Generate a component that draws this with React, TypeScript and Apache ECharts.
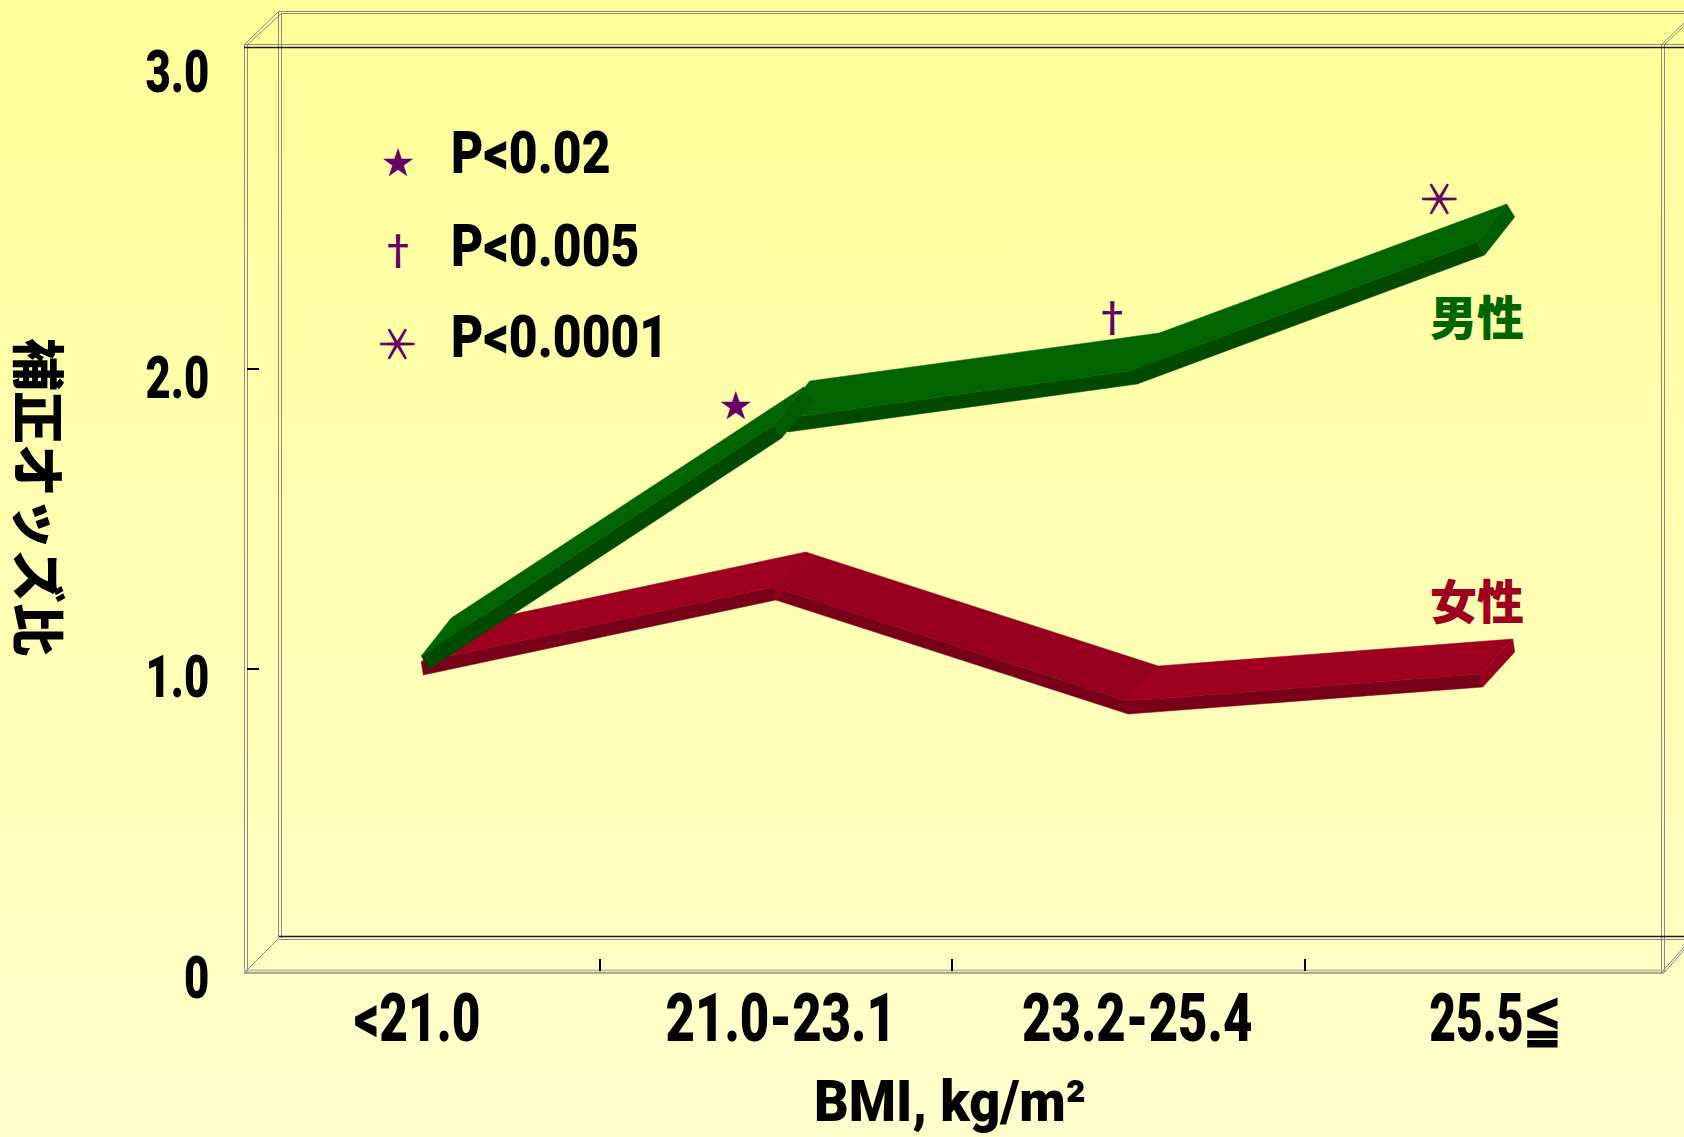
import React, { useEffect, useRef } from "react";
import * as echarts from "echarts";

const categories = ["<21.0", "21.0-23.1", "23.2-25.4", "25.5≦"];
const yTickValues = [0, 1, 2, 3];
const yTickLabels = ["0", "1.0", "2.0", "3.0"];
const menValues = [1.0, 1.77, 1.95, 2.38];
const womenValues = [0.98, 1.23, 0.85, 0.94];
const significanceMarks = ["★", "†", "＊"];
const significancePositions = [1.887, 2.18, 2.567];
const significanceCategories = [1, 2, 3];
const legendLabels = ["P<0.02", "P<0.005", "P<0.0001"];
const xAxisTitle = "BMI, kg/m²";
const yAxisTitle = "補正オッズ比";

const LATIN = 'Roboto, "Liberation Sans", sans-serif';
const CJK = '"Noto Sans CJK JP", sans-serif';
const PURPLE = "#660066";
const FRAME = "#8a8a80";

type Ribbon = {
  xShift: number[];
  t: number[];
  d: number[];
  top: string[];
  side: string;
  startShift: number[][];
};

const menStyle: Ribbon = {
  xShift: [6, 6, 9, 4],
  t: [-8, -13],
  d: [30, -38],
  top: ["#006400", "#006400", "#006400"],
  side: "#004a00",
  startShift: [[0, 0], [6, -6], [0, 0]],
};
const womenStyle: Ribbon = {
  xShift: [0, 0, 0, 2],
  t: [-2, -13],
  d: [32, -35],
  top: ["#a00020", "#96001e", "#a00020"],
  side: "#780018",
  startShift: [[0, 0], [0, 0], [0, 0]],
};

function markFont(i: number) {
  return i === 0 ? `32px ${CJK}` : i === 1 ? `500 40px ${CJK}` : `400 45px ${CJK}`;
}
function markRotation(i: number) {
  return i === 2 ? Math.PI / 2 : 0;
}

function ribbonSeries(name: string, values: number[], st: Ribbon) {
  const order = [1, 2, 0];
  return {
    type: "custom",
    name,
    z: name === "男性" ? 4 : 3,
    clip: false,
    silent: true,
    data: order.map((i) => [i, values[i], values[i + 1]]),
    renderItem: (_p: any, api: any) => {
      const i = api.value(0);
      const a = api.coord([i, api.value(1)]);
      const b = api.coord([i + 1, api.value(2)]);
      const js = st.startShift[i];
      const p0 = [a[0] + st.xShift[i] + js[0], a[1] + js[1]];
      const p1 = [b[0] + st.xShift[i + 1], b[1]];
      const add = (p: number[], ...vs: number[][]) => vs.reduce((r, v) => [r[0] + v[0], r[1] + v[1]], p);
      const poly = (points: number[][], fill: string) => ({
        type: "polygon",
        shape: { points },
        style: { fill, stroke: fill, lineWidth: 0.5 },
      });
      return {
        type: "group",
        children: [
          poly([p0, p1, add(p1, st.t), add(p0, st.t)], st.side),
          poly([add(p0, st.t), add(p1, st.t), add(p1, st.t, st.d), add(p0, st.t, st.d)], st.top[i]),
          poly([add(p1, st.t), p1, add(p1, st.d), add(p1, st.t, st.d)], st.top[i] === "#006400" ? "#005c00" : "#98001e"),
        ],
      };
    },
  };
}

function textSeries(name: string, data: any[], item: (api: any, idx: number) => any) {
  return {
    type: "custom",
    name,
    z: 8,
    clip: false,
    silent: true,
    data,
    renderItem: (p: any, api: any) => item(api, p.dataIndex),
  };
}

function frameGraphics() {
  const seg = (x1: number, y1: number, x2: number, y2: number, stroke = FRAME, lineWidth = 1) => ({
    type: "line",
    z: 0,
    silent: true,
    shape: { x1, y1, x2, y2 },
    style: { stroke, lineWidth },
  });
  return [
    seg(244.5, 44.5, 244.5, 972),
    seg(247.5, 44.5, 247.5, 972),
    seg(278.5, 11.5, 278.5, 938),
    seg(281.5, 13.5, 281.5, 938),
    seg(1661.5, 44.5, 1661.5, 972),
    seg(1664.5, 44.5, 1664.5, 972),
    seg(278, 11.5, 1684, 11.5),
    seg(281, 13.5, 1684, 13.5),
    seg(244, 44.5, 1684, 44.5),
    seg(244, 47.5, 1684, 47.5, "#1e1e1e", 1.5),
    seg(279, 936.5, 1684, 936.5, "#1e1e1e", 1.5),
    seg(279, 939.5, 1684, 939.5),
    seg(244, 970.5, 1664, 970.5, "#bdbdaa", 2),
    seg(244, 973, 1664, 973, "#5a5a50", 1.2),
    seg(244.5, 44.5, 278.5, 11.5),
    seg(247.5, 44.5, 281.5, 13.5),
    seg(244.5, 972.5, 278.5, 938.5),
    seg(1661.5, 44.5, 1684, 23),
    seg(1664.5, 44.5, 1684, 26),
    seg(1661.5, 972.5, 1684, 947),
    seg(1664.5, 972.5, 1684, 950),
  ];
}

function textGraphics() {
  const legendY = [152, 245, 336];
  const markX = [398, 398, 395];
  const markY = [160, 248, 344];
  const out: any[] = [];
  legendLabels.forEach((t, i) => {
    out.push({
      type: "text", z: 10, x: 451, y: legendY[i], scaleX: 0.83,
      style: { text: t, fill: "#000", font: `900 60px ${LATIN}`, textVerticalAlign: "middle" },
    });
    out.push({
      type: "text", z: 10, x: markX[i], y: markY[i], rotation: markRotation(i),
      style: { text: significanceMarks[i], fill: PURPLE, font: markFont(i), textAlign: "center", textVerticalAlign: "middle" },
    });
  });
  out.push({
    type: "text", z: 10, x: 1477, y: 314,
    style: { text: "男性", fill: "#006400", font: `900 47px ${CJK}`, textAlign: "center", textVerticalAlign: "middle" },
  });
  out.push({
    type: "text", z: 10, x: 1477, y: 598,
    style: { text: "女性", fill: "#a00020", font: `900 47px ${CJK}`, textAlign: "center", textVerticalAlign: "middle" },
  });
  out.push({
    type: "text", z: 10, x: 950, y: 1101, scaleX: 0.93,
    style: { text: xAxisTitle, fill: "#000", font: `900 58px ${LATIN}`, textAlign: "center", textVerticalAlign: "middle" },
  });
  out.push({
    type: "text", z: 10, x: 41, y: 497, rotation: -Math.PI / 2,
    style: { text: yAxisTitle, fill: "#000", font: `900 53px ${CJK}`, textAlign: "center", textVerticalAlign: "middle" },
  });
  return out;
}

const xLabelShift = [-6, 5, 9, 15];
const xLabelScale = [0.75, 0.77, 0.77, 0.7];
const yLabelShift = [9, 8, 9, 3.5];
const markOffset = [-40, -16, -43];

export default function App() {
  const ref = useRef<HTMLDivElement>(null);
  useEffect(() => {
    const chart = echarts.init(ref.current!, undefined, { renderer: "svg" });
    chart.setOption({
      animation: false,
      backgroundColor: {
        type: "linear", x: 0, y: 0, x2: 0, y2: 1,
        colorStops: [{ offset: 0, color: "#ffff99" }, { offset: 1, color: "#ffffcc" }],
      },
      grid: { left: 247, right: 27, top: 69, bottom: 168, outerBoundsMode: "none" },
      xAxis: [
        {
          type: "category",
          data: categories,
          position: "bottom",
          axisLine: { show: false },
          axisTick: { show: false },
          axisLabel: { show: false },
        },
        {
          type: "value",
          min: 0,
          max: 4,
          interval: 1,
          position: "bottom",
          offset: 2,
          axisLine: { show: false },
          splitLine: { show: false },
          axisLabel: { show: false },
          axisTick: { show: true, inside: true, length: 12, customValues: [1, 2, 3], lineStyle: { color: "#000", width: 2 } },
        },
      ],
      yAxis: {
        type: "value",
        min: 0,
        max: 3,
        interval: 1,
        splitLine: { show: false },
        axisLine: { show: false },
        axisTick: { show: true, inside: true, length: 12, customValues: [1, 2], lineStyle: { color: "#000", width: 2 } },
        axisLabel: { show: false },
      },
      series: [
        ribbonSeries("女性", womenValues, womenStyle),
        ribbonSeries("男性", menValues, menStyle),
        textSeries("x labels", categories.map((_, i) => [i, 0]), (api, idx) => {
          const c = api.coord([idx, 0]);
          return {
            type: "text", x: c[0] + xLabelShift[idx], y: c[1] + 49, scaleX: xLabelScale[idx],
            style: { text: categories[idx], fill: "#000", font: `900 66px ${LATIN}`, textAlign: "center", textVerticalAlign: "middle" },
          };
        }),
        textSeries("y labels", yTickValues.map((v) => [0, v]), (api, idx) => {
          const c = api.coord([0, yTickValues[idx]]);
          return {
            type: "text", x: c[0] - 214, y: c[1] + yLabelShift[idx], scaleX: 0.74,
            style: { text: yTickLabels[idx], fill: "#000", font: `900 59px ${LATIN}`, textAlign: "right", textVerticalAlign: "middle" },
          };
        }),
        textSeries("有意水準", significanceCategories.map((c, i) => [c, significancePositions[i]]), (api, idx) => {
          const c = api.coord([significanceCategories[idx], significancePositions[idx]]);
          return {
            type: "text", x: c[0] + markOffset[idx], y: c[1], rotation: markRotation(idx),
            style: { text: significanceMarks[idx], fill: PURPLE, font: markFont(idx), textAlign: "center", textVerticalAlign: "middle" },
          };
        }),
      ],
      graphic: [...frameGraphics(), ...textGraphics()],
    });
    return () => chart.dispose();
  }, []);
  return <div ref={ref} style={{ position: "absolute", left: 0, top: 0, width: 1684, height: 1137 }} />;
}
